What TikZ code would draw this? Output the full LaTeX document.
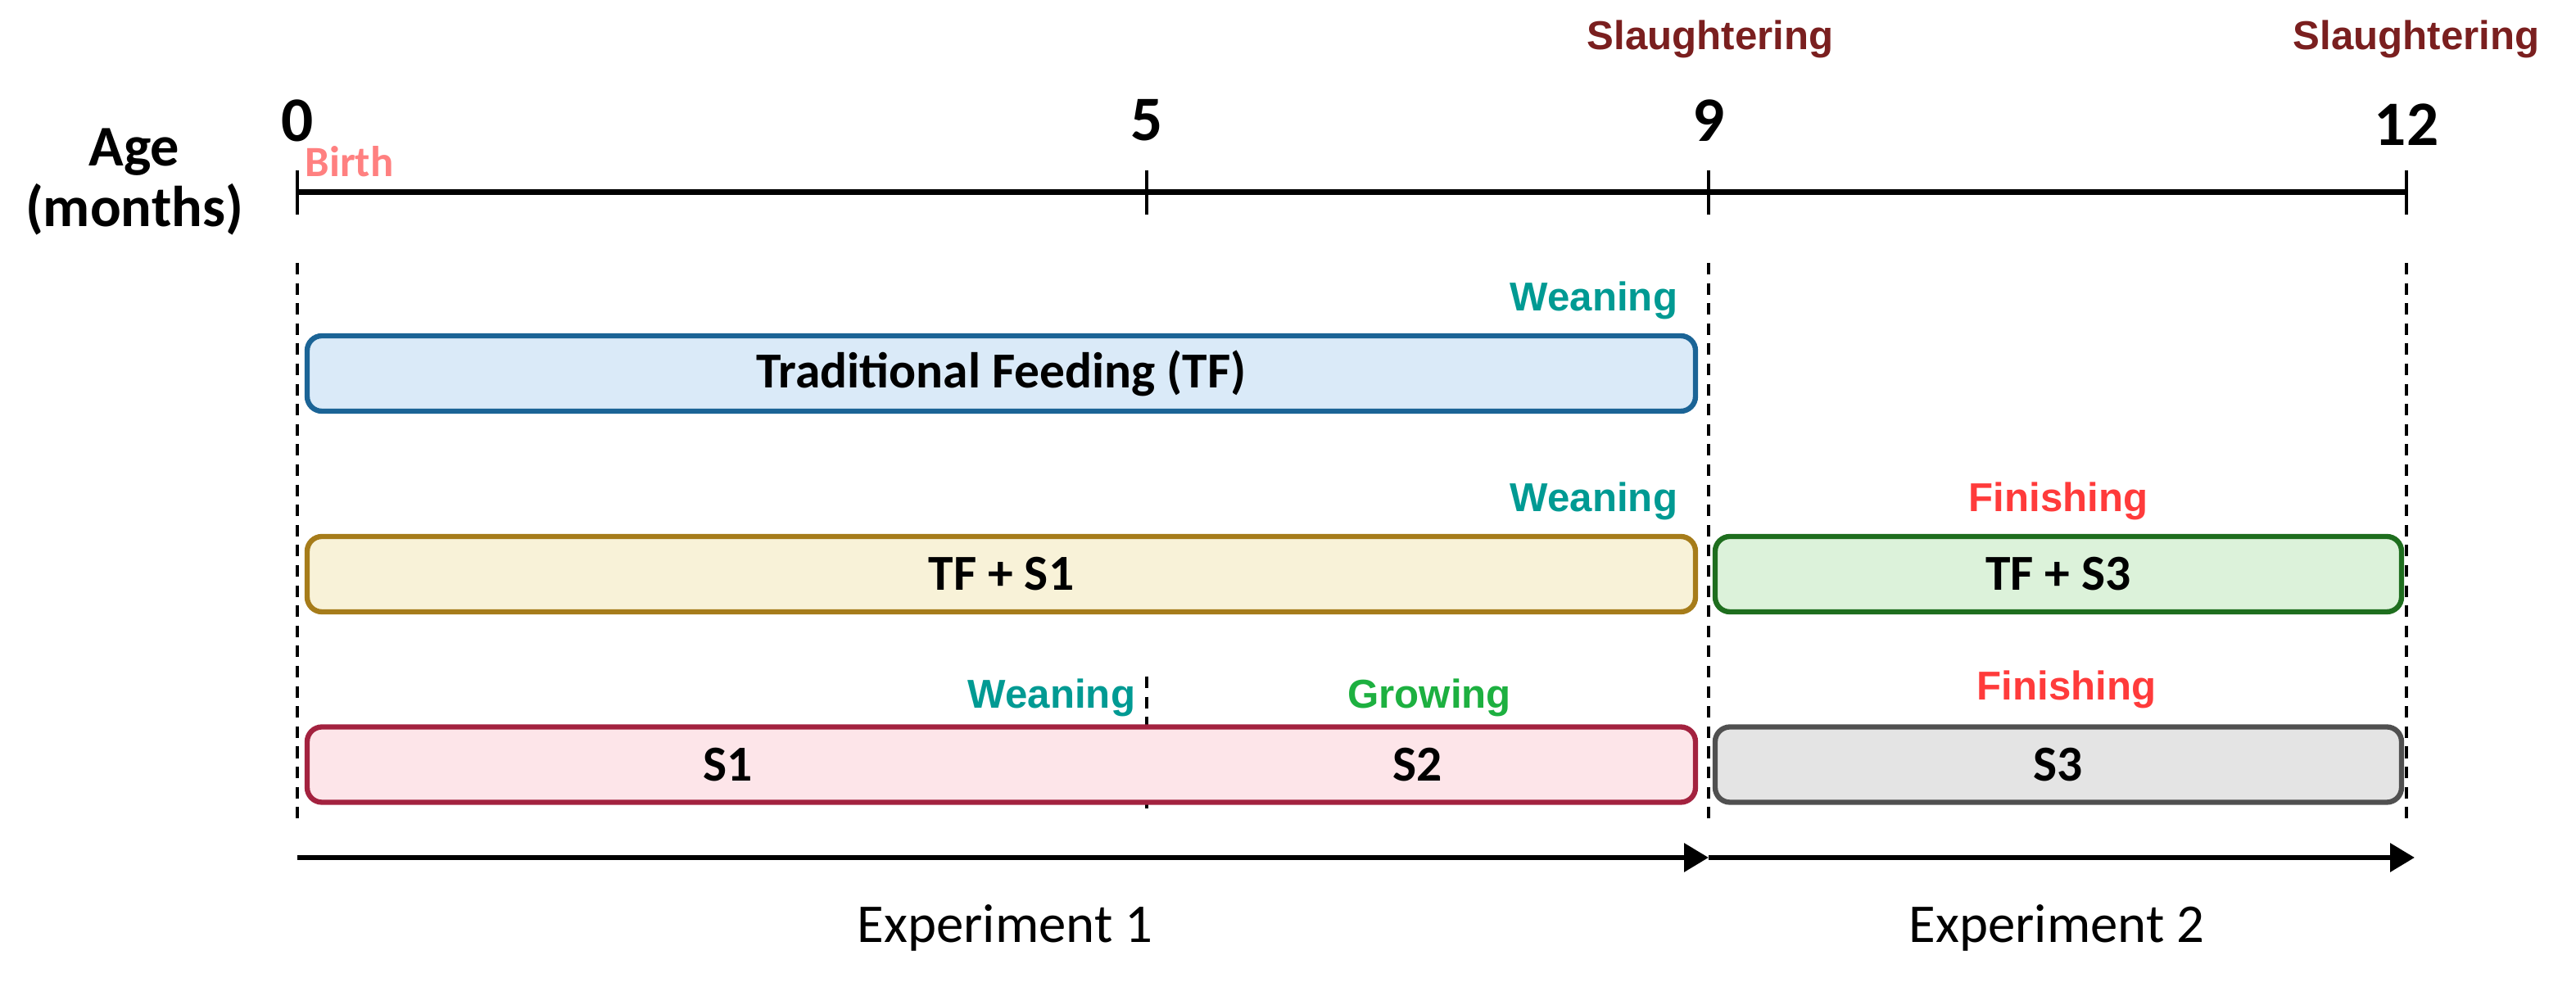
\documentclass[tikz,border=0pt]{standalone}
\usepackage{fontspec}
\setmainfont{Carlito}
\newfontfamily\stagefont{Liberation Sans}
\usepackage{tikz}
\usetikzlibrary{arrows.meta}

\definecolor{tfline}{HTML}{1B6496}
\definecolor{tffill}{HTML}{DAEAF8}
\definecolor{sonefline}{HTML}{A67C1A}
\definecolor{soneffill}{HTML}{F8F2D8}
\definecolor{sthreefline}{HTML}{1E6E1E}
\definecolor{sthreeffill}{HTML}{DCF2DA}
\definecolor{stwoline}{HTML}{A3223F}
\definecolor{stwofill}{HTML}{FDE5E9}
\definecolor{greyline}{HTML}{505050}
\definecolor{greyfill}{HTML}{E4E4E4}
\definecolor{weancol}{HTML}{009A93}
\definecolor{finishcol}{HTML}{FF3B3B}
\definecolor{growcol}{HTML}{1DB040}
\definecolor{slaughtcol}{HTML}{7A1F1F}
\definecolor{birthcol}{HTML}{FF8080}

\tikzset{
	phase/.style={draw, rounded corners=0.18cm, line width=1.8pt, minimum height=0.92cm, inner sep=0pt},
	phasetext/.style={font=\bfseries\fontsize{17.5}{20}\selectfont},
	stage/.style={font=\stagefont\bfseries\fontsize{14}{16}\selectfont},
	guide/.style={line width=1.3pt, dash pattern=on 4pt off 3pt},
	exparrow/.style={line width=1.8pt, -{Triangle[length=0.3cm, width=0.34cm]}}
}

\begin{document}
\begin{tikzpicture}
	\useasboundingbox (0,0) rectangle (31.45,-12.05);
	
	% time axis
	\coordinate (t0) at (3.63,-2.35);
	\coordinate (t5) at (14.00,-2.35);
	\coordinate (t9) at (20.86,-2.35);
	\coordinate (t12) at (29.38,-2.35);
	\draw[line width=2pt] (t0) -- (t12);
	\foreach \t in {t0, t5, t9, t12}
	\draw[line width=1.3pt] ([yshift=0.27cm]\t) -- ([yshift=-0.27cm]\t);
	
	\node[font=\bfseries\fontsize{20}{21}\selectfont, align=center] (age) at (1.64,-2.22) {Age\\(months)};
	\node[font=\bfseries\fontsize{22}{24}\selectfont] (m0) at (3.63,-1.47) {0};
	\node[font=\bfseries\fontsize{22}{24}\selectfont] (m5) at (14.00,-1.47) {5};
	\node[font=\bfseries\fontsize{22}{24}\selectfont] (m9) at (20.86,-1.47) {9};
	\node[font=\bfseries\fontsize{22}{24}\selectfont] (m12) at (29.38,-1.52) {12};
	
	\node[anchor=west, text=birthcol, font=\bfseries\fontsize{15}{17}\selectfont, inner sep=0pt] (birth) at (3.72,-1.97) {Birth};
	\node[stage, text=slaughtcol] (slaughtA) at (20.88,-0.48) {Slaughtering};
	\node[stage, text=slaughtcol] (slaughtB) at (29.50,-0.48) {Slaughtering};
	
	% dashed guides
	\foreach \x in {3.63, 20.86, 29.38}
	\draw[guide] (\x,-3.21) -- (\x,-10.03);
	\draw[guide] (14.00,-8.26) -- (14.00,-9.87);
	
	% feeding phases
	\node[phase, draw=tfline, fill=tffill, minimum width=16.95cm] (tf) at (12.225,-4.56) {};
	\node[phasetext] (tftext) at (tf) {Traditional Feeding (TF)};
	\node[stage, text=weancol] (weanA) at (19.46,-3.67) {Weaning};
	
	\node[phase, draw=sonefline, fill=soneffill, minimum width=16.95cm] (tfsone) at (12.225,-7.01) {};
	\node[phasetext] (tfsonetext) at (tfsone) {TF + S1};
	\node[stage, text=weancol] (weanB) at (19.46,-6.12) {Weaning};
	
	\node[phase, draw=sthreefline, fill=sthreeffill, minimum width=8.38cm] (tfsthree) at (25.13,-7.01) {};
	\node[phasetext] (tfsthreetext) at (tfsthree) {TF + S3};
	\node[stage, text=finishcol] (finishA) at (25.13,-6.12) {Finishing};
	
	\node[phase, draw=stwoline, fill=stwofill, minimum width=16.95cm] (sonetwo) at (12.225,-9.335) {};
	\node[phasetext] (sone) at (8.89,-9.335) {S1};
	\node[phasetext] (stwo) at (17.31,-9.335) {S2};
	\node[stage, text=weancol] (weanC) at (12.84,-8.52) {Weaning};
	\node[stage, text=growcol] (grow) at (17.45,-8.52) {Growing};
	
	\node[phase, draw=greyline, fill=greyfill, minimum width=8.38cm] (sthree) at (25.13,-9.335) {};
	\node[phasetext] (sthreetext) at (sthree) {S3};
	\node[stage, text=finishcol] (finishB) at (25.23,-8.42) {Finishing};
	
	% experiments
	\coordinate (a0) at (3.63,-10.47);
	\coordinate (a9) at (20.86,-10.47);
	\coordinate (a12) at (29.48,-10.47);
	\draw[exparrow] (a0) -- (a9);
	\draw[exparrow] (a9) -- (a12);
	
	\node[font=\fontsize{19}{22}\selectfont] (expone) at (12.27,-11.33) {Experiment 1};
	\node[font=\fontsize{19}{22}\selectfont] (exptwo) at (25.11,-11.33) {Experiment 2};
\end{tikzpicture}
\end{document}
